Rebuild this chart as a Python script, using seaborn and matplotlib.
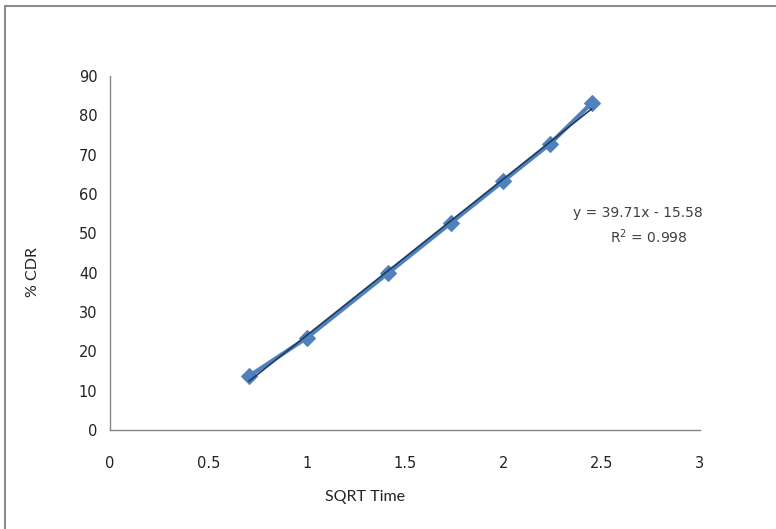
import numpy as np
import seaborn as sns
import matplotlib.pyplot as plt
from matplotlib.patches import Rectangle

# data
sqrt_time = [0.707, 1.0, 1.414, 1.732, 2.0, 2.236, 2.449]
cdr = [13.7, 23.4, 39.9, 52.6, 63.3, 72.7, 83.1]
eq_text = "y = 39.71x - 15.58"
r2_text = "R$^2$ = 0.998"

sns.set_style("white")
plt.rcParams['font.family'] = ['DejaVu Sans']

fig = plt.figure(figsize=(7.76, 5.29), dpi=100)
ax = fig.add_axes([110 / 776, 1 - 430 / 529, 590 / 776, 354 / 529])

blue = '#4F81BD'
sns.lineplot(x=sqrt_time, y=cdr, ax=ax, color=blue, linewidth=3,
             marker='D', markersize=8, markeredgecolor=blue)
sns.regplot(x=sqrt_time, y=cdr, ax=ax, scatter=False, ci=None, truncate=True,
            line_kws={'color': '#1F3B5C', 'linewidth': 1.2})

ax.set_xlim(0, 3)
ax.set_ylim(0, 90)
ax.set_xticks([0, 0.5, 1, 1.5, 2, 2.5, 3])
ax.set_xticklabels(['0', '0.5', '1', '1.5', '2', '2.5', '3'])
ax.set_yticks(range(0, 91, 10))

for s in ['top', 'right']:
    ax.spines[s].set_visible(False)
for s in ['left', 'bottom']:
    ax.spines[s].set_color('#868686')
    ax.spines[s].set_linewidth(1)
ax.tick_params(axis='both', direction='out', length=5, width=1, color='#868686',
               labelsize=10.5, labelcolor='#222222')
ax.tick_params(axis='y', pad=4)
ax.tick_params(axis='x', pad=14)

ax.set_xlabel('')
ax.set_ylabel('')
fig.text(365 / 776, 1 - 497 / 529, 'SQRT Time', ha='center', va='center',
         fontsize=11.5, color='#222222', family='Lato')
fig.text(33 / 776, 1 - 272 / 529, '% CDR', ha='center', va='center', rotation=90,
         fontsize=11.5, color='#222222', family='Lato')

fig.text(638 / 776, 1 - 213 / 529, eq_text, ha='center', va='center',
         fontsize=10, color='#404040')
fig.text(649 / 776, 1 - 237 / 529, r2_text, ha='center', va='center',
         fontsize=10, color='#404040')

# outer chart frame (runs off the right and bottom edges)
fig.patches.append(Rectangle((5 / 776, -0.1), 1.1, 1.1 - 6 / 529,
                             transform=fig.transFigure, fill=False,
                             edgecolor='#8C8C8C', linewidth=1.5))

plt.savefig("out.png", dpi=100)
